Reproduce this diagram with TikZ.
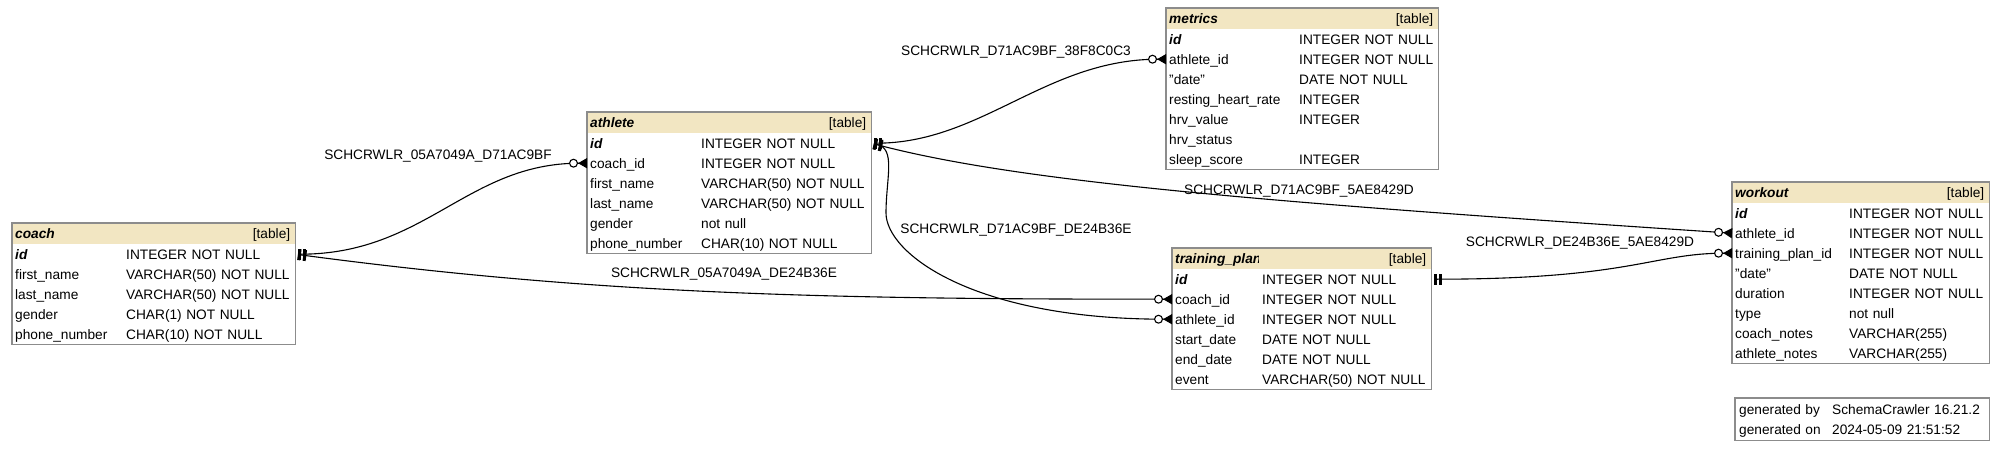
\documentclass[tikz,border=0pt]{standalone}
\usepackage{fontspec}
\setmainfont{Liberation Sans}
\usetikzlibrary{arrows.meta, positioning, fit}
\definecolor{headfill}{RGB}{242,230,194}
\definecolor{framegray}{RGB}{140,140,140}

\begin{document}
\begin{tikzpicture}[x=1pt, y=-1pt,
  font=\fontsize{13.7pt}{16pt}\selectfont,
  ttxt/.style={text height=12pt, text depth=2pt},
  thead/.style={anchor=north west, fill=headfill, minimum width=#1, minimum height=21pt, inner sep=0pt},
  tname/.style={ttxt, anchor=west, inner xsep=3pt, inner ysep=0pt, font=\fontsize{13.7pt}{16pt}\selectfont\bfseries\itshape},
  ttag/.style={ttxt, anchor=north east, fill=headfill, text width=#1, align=right, minimum height=21pt, inner xsep=5pt, inner ysep=0pt},
  trow/.style={ttxt, anchor=north west, text width=#1, align=left, minimum height=20pt, inner xsep=3pt, inner ysep=0pt},
  tframe/.style={draw=framegray, line width=1.2pt, inner sep=0pt},
  elabel/.style={inner sep=0pt},
  fk/.style={line width=1.1pt,
    {Rectangle[length=3pt,width=11pt,sep=2.5pt]Rectangle[length=3pt,width=11pt,sep=2.5pt]}-{Circle[open,fill=white,length=9pt,width=9pt,line width=1.1pt]Triangle[reversed,length=9pt,width=10pt]}}]
\useasboundingbox (0,0) rectangle (2001,449);

% coach
\node[thead=283pt] (coach-h) at (12,223) {};
\node[tname] (coach-n) at (coach-h.west) {coach};
\node[ttag=162pt] (coach-t) at (coach-h.north east) {[table]};
\node[trow=277pt] (coach-id) at (12,244) {\makebox[111pt][l]{\bfseries\itshape id}INTEGER NOT NULL};
\foreach \k/\c/\t [count=\i] in {first/first\_name/VARCHAR(50) NOT NULL, last/last\_name/VARCHAR(50) NOT NULL,
    gender/gender/CHAR(1) NOT NULL, phone/phone\_number/CHAR(10) NOT NULL}
  \node[trow=277pt] (coach-\k) at (12,{244+20*\i}) {\makebox[111pt][l]{\c}\t};
\node[tframe, fit=(coach-h)(coach-phone)] (coach) {};

% athlete
\node[thead=284pt] (athlete-h) at (587,112) {};
\node[tname] (athlete-n) at (athlete-h.west) {athlete};
\node[ttag=163pt] (athlete-t) at (athlete-h.north east) {[table]};
\node[trow=278pt] (athlete-id) at (587,133) {\makebox[111pt][l]{\bfseries\itshape id}INTEGER NOT NULL};
\foreach \k/\c/\t [count=\i] in {coach/coach\_id/INTEGER NOT NULL, first/first\_name/VARCHAR(50) NOT NULL,
    last/last\_name/VARCHAR(50) NOT NULL, gender/gender/not null, phone/phone\_number/CHAR(10) NOT NULL}
  \node[trow=278pt] (athlete-\k) at (587,{133+20*\i}) {\makebox[111pt][l]{\c}\t};
\node[tframe, fit=(athlete-h)(athlete-phone)] (athlete) {};

% metrics
\node[thead=272pt] (metrics-h) at (1166,8) {};
\node[tname] (metrics-n) at (metrics-h.west) {metrics};
\node[ttag=132pt] (metrics-t) at (metrics-h.north east) {[table]};
\node[trow=266pt] (metrics-id) at (1166,29) {\makebox[130pt][l]{\bfseries\itshape id}INTEGER NOT NULL};
\foreach \k/\c/\t [count=\i] in {athlete/athlete\_id/INTEGER NOT NULL, date/"date"/DATE NOT NULL,
    rhr/resting\_heart\_rate/INTEGER, hrvvalue/hrv\_value/INTEGER, hrvstatus/hrv\_status/, sleep/sleep\_score/INTEGER}
  \node[trow=266pt] (metrics-\k) at (1166,{29+20*\i}) {\makebox[130pt][l]{\c}\t};
\node[tframe, fit=(metrics-h)(metrics-sleep)] (metrics) {};

% training_plan
\node[thead=259pt] (plan-h) at (1172,248) {};
\node[tname] (plan-n) at (plan-h.west) {training\_plan};
\node[ttag=162pt] (plan-t) at (plan-h.north east) {[table]};
\node[trow=253pt] (plan-id) at (1172,269) {\makebox[87pt][l]{\bfseries\itshape id}INTEGER NOT NULL};
\foreach \k/\c/\t [count=\i] in {coach/coach\_id/INTEGER NOT NULL, athlete/athlete\_id/INTEGER NOT NULL,
    start/start\_date/DATE NOT NULL, end/end\_date/DATE NOT NULL, event/event/VARCHAR(50) NOT NULL}
  \node[trow=253pt] (plan-\k) at (1172,{269+20*\i}) {\makebox[87pt][l]{\c}\t};
\node[tframe, fit=(plan-h)(plan-event)] (plan) {};

% workout
\node[thead=257pt] (workout-h) at (1732,182) {};
\node[tname] (workout-n) at (workout-h.west) {workout};
\node[ttag=133pt] (workout-t) at (workout-h.north east) {[table]};
\node[trow=251pt] (workout-id) at (1732,203) {\makebox[114pt][l]{\bfseries\itshape id}INTEGER NOT NULL};
\foreach \k/\c/\t [count=\i] in {athlete/athlete\_id/INTEGER NOT NULL, plan/training\_plan\_id/INTEGER NOT NULL,
    date/"date"/DATE NOT NULL, duration/duration/INTEGER NOT NULL, type/type/not null,
    cnotes/coach\_notes/VARCHAR(255), anotes/athlete\_notes/VARCHAR(255)}
  \node[trow=251pt] (workout-\k) at (1732,{203+20*\i}) {\makebox[114pt][l]{\c}\t};
\node[tframe, fit=(workout-h)(workout-anotes)] (workout) {};

% footer
\node[trow=246pt] (gen-by) at (1736,399) {\makebox[93pt][l]{generated by}SchemaCrawler 16.21.2};
\node[trow=246pt] (gen-on) at (1736,419) {\makebox[93pt][l]{generated on}2024-05-09 21:51:52};
\node[tframe, inner sep=1pt, fit=(gen-by)(gen-on)] (gen) {};

% foreign keys
\coordinate (dip) at (886,213);
\draw[fk] (coach-id.east) .. controls +(130,0) and +(-120,0) .. (athlete-coach.west);
\draw[fk] (coach-id.east) .. controls +(300,40) and +(-350,0) .. (plan-coach.west);
\draw[fk] (athlete-id.east) .. controls +(110,0) and +(-120,0) .. (metrics-athlete.west);
\draw[fk] (athlete-id.east) .. controls +(150,40) and +(-450,-30) .. (workout-athlete.west);
\draw[fk] (athlete-id.east) .. controls +(25,5) and +(0,-35) .. (dip) .. controls +(0,40) and +(-200,0) .. (plan-athlete.west);
\draw[fk] (plan-id.east) .. controls +(200,0) and +(-80,0) .. (workout-plan.west);

\node[elabel] (l-coach-athlete) at (438,156) {SCHCRWLR\_05A7049A\_D71AC9BF};
\node[elabel] (l-athlete-metrics) at (1016,52) {SCHCRWLR\_D71AC9BF\_38F8C0C3};
\node[elabel] (l-athlete-plan) at (1016,230) {SCHCRWLR\_D71AC9BF\_DE24B36E};
\node[elabel] (l-athlete-workout) at (1299,191) {SCHCRWLR\_D71AC9BF\_5AE8429D};
\node[elabel] (l-coach-plan) at (724,274) {SCHCRWLR\_05A7049A\_DE24B36E};
\node[elabel] (l-plan-workout) at (1580,243) {SCHCRWLR\_DE24B36E\_5AE8429D};
\end{tikzpicture}
\end{document}
